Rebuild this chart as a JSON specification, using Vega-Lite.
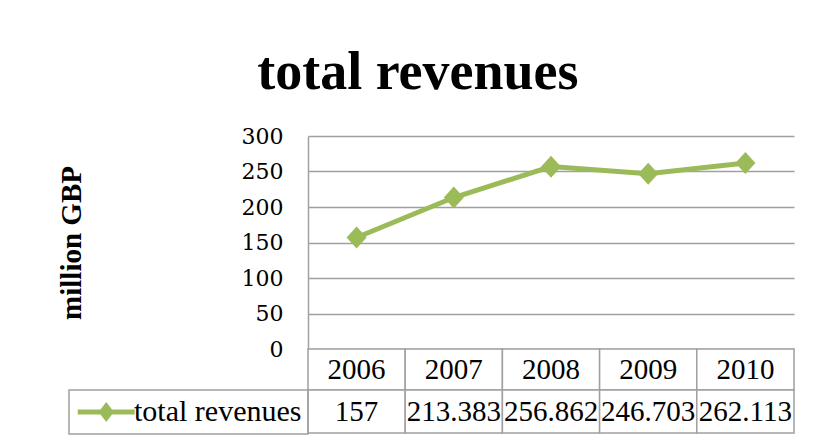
{
  "$schema": "https://vega.github.io/schema/vega-lite/v6.json",
  "background": "white",
  "padding": {"left": 57, "top": 46, "right": 22, "bottom": 3},
  "autosize": {"type": "pad"},
  "title": {
    "text": "total revenues",
    "font": "Liberation Serif",
    "fontSize": 54,
    "fontWeight": "bold",
    "color": "black",
    "anchor": "middle",
    "frame": "bounds",
    "offset": 25,
    "dx": -8
  },
  "datasets": {
    "rev": [
      {"year": "2006", "value": 157, "series": "total revenues"},
      {"year": "2007", "value": 213.383, "series": "total revenues"},
      {"year": "2008", "value": 256.862, "series": "total revenues"},
      {"year": "2009", "value": 246.703, "series": "total revenues"},
      {"year": "2010", "value": 262.113, "series": "total revenues"}
    ]
  },
  "spacing": 0,
  "bounds": "flush",
  "resolve": {
    "scale": {"color": "independent", "x": "independent", "y": "independent"},
    "legend": {"color": "independent"}
  },
  "config": {
    "view": {"stroke": null},
    "text": {"font": "Liberation Serif", "fontSize": 29, "color": "black"}
  },
  "vconcat": [
    {
      "width": 486,
      "height": 213,
      "data": {"name": "rev"},
      "mark": {
        "type": "line",
        "color": "#9BBB59",
        "strokeWidth": 5,
        "point": {"shape": "M0,-1.1L1,0L0,1.1L-1,0Z", "size": 400, "filled": true, "color": "#9BBB59", "opacity": 1}
      },
      "encoding": {
        "x": {
          "field": "year",
          "type": "ordinal",
          "scale": {"type": "band", "paddingInner": 0, "paddingOuter": 0},
          "axis": null
        },
        "y": {
          "field": "value",
          "type": "quantitative",
          "scale": {"domain": [0, 300], "nice": false},
          "axis": {
            "values": [0, 50, 100, 150, 200, 250, 300],
            "title": "million GBP",
            "titleFont": "Liberation Serif",
            "titleFontSize": 29,
            "titleFontWeight": "bold",
            "titleColor": "black",
            "titlePadding": 155,
            "grid": true,
            "gridColor": "#a0a0a0",
            "gridWidth": 1.5,
            "domainColor": "#a0a0a0",
            "domainWidth": 1.5,
            "ticks": false,
            "labelFont": "DejaVu Serif",
            "labelFontSize": 22,
            "labelColor": "black",
            "labelPadding": 25
          }
        }
      }
    },
    {
      "width": 486,
      "height": 41,
      "data": {"name": "rev"},
      "encoding": {
        "x": {
          "field": "year",
          "type": "ordinal",
          "scale": {"type": "band", "paddingInner": 0, "paddingOuter": 0},
          "axis": null
        }
      },
      "layer": [
        {"mark": {"type": "rect", "fill": "white", "stroke": "#a0a0a0", "strokeWidth": 1.5}},
        {"mark": {"type": "text", "baseline": "middle"}, "encoding": {"text": {"field": "year", "type": "nominal"}}}
      ]
    },
    {
      "width": 486,
      "height": 43,
      "data": {"name": "rev"},
      "encoding": {
        "x": {
          "field": "year",
          "type": "ordinal",
          "scale": {"type": "band", "paddingInner": 0, "paddingOuter": 0},
          "axis": null
        }
      },
      "layer": [
        {"mark": {"type": "rect", "fill": "white", "stroke": "#a0a0a0", "strokeWidth": 1.5}},
        {
          "mark": {"type": "text", "baseline": "middle"},
          "encoding": {
            "text": {"field": "value", "type": "nominal"},
            "color": {
              "field": "series",
              "type": "nominal",
              "scale": {"range": ["black"]},
              "legend": {
                "orient": "left",
                "offset": 0,
                "title": null,
                "padding": 6,
                "strokeColor": "#a0a0a0",
                "symbolType": "M-1,0H3.3M1.15,-0.45L1.49,0L1.15,0.45L0.81,0Z",
                "symbolSize": 702,
                "symbolStrokeWidth": 5,
                "labelFont": "Liberation Serif",
                "labelFontSize": 30,
                "labelColor": "black",
                "labelOffset": 27,
                "labelLimit": 400,
                "encode": {
                  "legend": {"update": {"strokeWidth": {"value": 1.5}}},
                  "symbols": {"update": {"fill": {"value": "#9BBB59"}, "stroke": {"value": "#9BBB59"}, "opacity": {"value": 1}}}
                }
              }
            }
          }
        }
      ]
    }
  ]
}
